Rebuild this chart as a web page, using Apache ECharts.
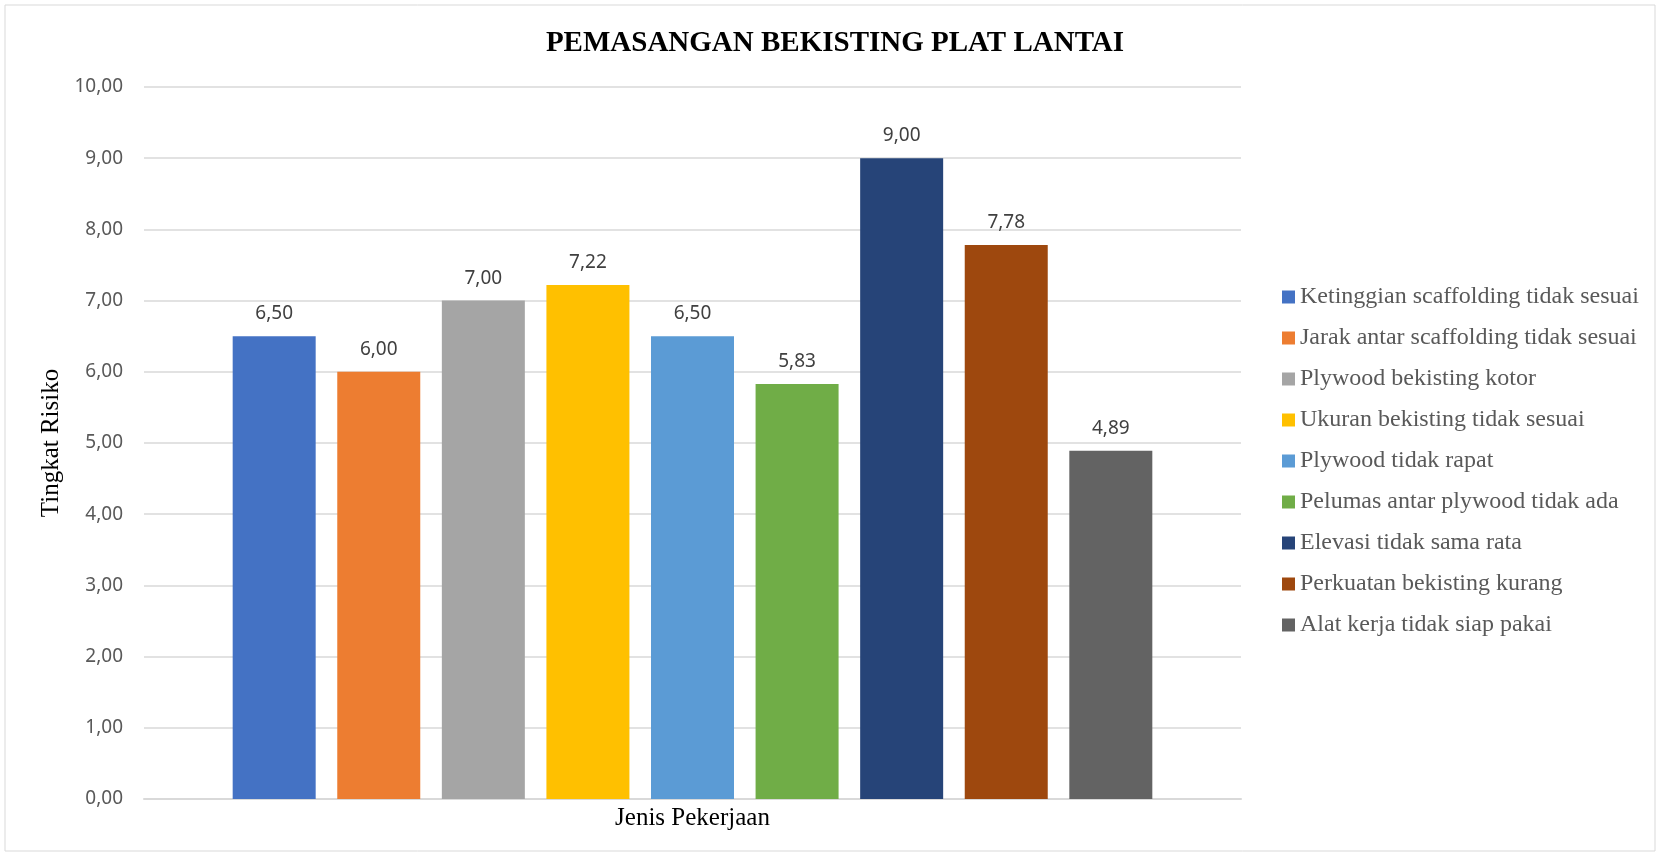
<!DOCTYPE html>
<html>
<head>
<meta charset="utf-8">
<script src="https://cdn.jsdelivr.net/npm/echarts@6/dist/echarts.min.js"></script>
<style>
  html, body { margin: 0; padding: 0; background: #fff; }
  #chart { width: 1661px; height: 856px; }
</style>
</head>
<body>
<div id="chart"></div>
<script>
// data
const category = ['Jenis Pekerjaan'];
const seriesNames = [
  'Ketinggian scaffolding tidak sesuai',
  'Jarak antar scaffolding tidak sesuai',
  'Plywood bekisting kotor',
  'Ukuran bekisting tidak sesuai',
  'Plywood tidak rapat',
  'Pelumas antar plywood tidak ada',
  'Elevasi tidak sama rata',
  'Perkuatan bekisting kurang',
  'Alat kerja tidak siap pakai'
];
const seriesValues = [6.50, 6.00, 7.00, 7.22, 6.50, 5.83, 9.00, 7.78, 4.89];
const seriesColors = ['#4472C4', '#ED7D31', '#A5A5A5', '#FFC000', '#5B9BD5', '#70AD47', '#264478', '#9E480E', '#636363'];

const fmt = v => Number(v).toFixed(2).replace('.', ',');
const serif = '"Liberation Serif", "Times New Roman", serif';
const sans = '"Noto Sans", "Open Sans", sans-serif';

const chart = echarts.init(document.getElementById('chart'));

const series = seriesNames.map((name, i) => ({
  name: name,
  type: 'bar',
  data: [seriesValues[i]],
  barWidth: 83,
  barGap: '26%',
  itemStyle: { color: seriesColors[i] },
  label: {
    show: true,
    position: 'top',
    distance: 13,
    formatter: p => fmt(p.value),
    color: '#404040',
    fontFamily: sans,
    fontSize: 19
  }
}));

chart.setOption({
  animation: false,
  backgroundColor: '#fff',
  graphic: [{
    type: 'rect',
    shape: { x: 5, y: 5, width: 1650, height: 846 },
    style: { fill: 'none', stroke: '#d9d9d9', lineWidth: 1 },
    silent: true
  }],
  title: {
    text: 'PEMASANGAN BEKISTING PLAT LANTAI',
    left: 830,
    textAlign: 'center',
    top: 24,
    textStyle: { fontFamily: serif, fontWeight: 'bold', fontSize: 29, color: '#000' }
  },
  legend: {
    orient: 'vertical',
    left: 1277,
    top: 280,
    itemWidth: 13,
    itemHeight: 13,
    itemGap: 17,
    icon: 'rect',
    data: seriesNames,
    textStyle: { fontFamily: serif, fontSize: 24, color: '#595959', lineHeight: 21 }
  },
  grid: { left: 144, right: 420, top: 87, bottom: 57 },
  xAxis: {
    type: 'category',
    data: category,
    axisTick: { show: false },
    axisLine: { lineStyle: { color: '#d9d9d9', width: 2 } },
    axisLabel: { margin: 7, fontFamily: serif, fontSize: 25, color: '#000' }
  },
  yAxis: {
    type: 'value',
    min: 0,
    max: 10,
    interval: 1,
    name: 'Tingkat Risiko',
    nameLocation: 'middle',
    nameRotate: 90,
    nameGap: 70,
    nameTextStyle: { fontFamily: serif, fontSize: 25, color: '#000' },
    axisLine: { show: false },
    axisTick: { show: false },
    axisLabel: { margin: 21, formatter: fmt, fontFamily: sans, fontSize: 19, color: '#595959' },
    splitLine: { lineStyle: { color: '#d9d9d9', width: 1.5 } }
  },
  series: series
});
</script>
</body>
</html>
